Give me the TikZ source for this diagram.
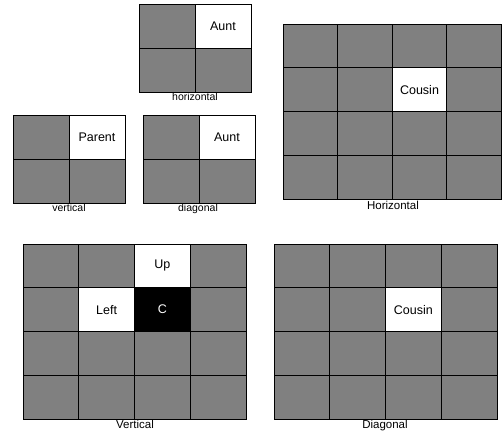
\documentclass[tikz,border=0pt]{standalone}
\usepackage{fontspec}
\setmainfont{Liberation Sans}
\usetikzlibrary{positioning}
\begin{document}
\begin{tikzpicture}[x=1pt, y=-1pt,
    cell/.style={rectangle, draw, line width=0.8pt, fill=black!50, inner sep=0pt,
                 minimum width=56pt, minimum height=44pt},
    bigcell/.style={cell, minimum width=55.75pt, minimum height=43.75pt},
    hole/.style={fill=white, font=\fontsize{12.5}{14}\selectfont},
    centre/.style={fill=black, text=white, font=\fontsize{12.5}{14}\selectfont},
    smalllabel/.style={inner sep=0pt, anchor=north, font=\fontsize{10.5}{12}\selectfont},
    biglabel/.style={inner sep=0pt, anchor=north, font=\fontsize{11.5}{14}\selectfont}
  ]
  \useasboundingbox (0,0) rectangle (502,437);

  % small grids
  \foreach \c in {0,1} {
    \foreach \r in {0,1} {
      \node[cell] (sh-\c\r) at ({167+56*\c},{26+44*\r}) {};
      \node[cell] (sv-\c\r) at ({41+56*\c},{137+44*\r}) {};
      \node[cell] (sd-\c\r) at ({171+56*\c},{137+44*\r}) {};
    }
  }
  \node[cell, hole] (aunt-h) at (sh-10) {Aunt};
  \node[cell, hole] (parent) at (sv-10) {Parent};
  \node[cell, hole] (aunt-d) at (sd-10) {Aunt};

  \node[smalllabel] (lab-sh) at (195,93) {horizontal};
  \node[smalllabel] (lab-sv) at (69,204) {vertical};
  \node[smalllabel] (lab-sd) at (198,204) {diagonal};

  % big grids
  \foreach \c in {0,...,3} {
    \foreach \r in {0,...,3} {
      \node[bigcell, minimum width=54.6pt] (bh-\c\r) at ({283+27.3+54.6*\c},{24+21.875+43.75*\r}) {};
      \node[bigcell] (bv-\c\r) at ({23+27.875+55.75*\c},{244+21.875+43.75*\r}) {};
      \node[bigcell] (bd-\c\r) at ({274+27.875+55.75*\c},{244+21.875+43.75*\r}) {};
    }
  }
  \node[bigcell, minimum width=54.6pt, hole] (cousin-h) at (bh-21) {Cousin};
  \node[bigcell, hole] (up) at (bv-20) {Up};
  \node[bigcell, hole] (left) at (bv-11) {Left};
  \node[bigcell, centre] (c) at (bv-21) {C};
  \node[bigcell, hole] (cousin-d) at (bd-21) {Cousin};

  \node[biglabel] (lab-bh) at (393,201) {Horizontal};
  \node[biglabel] (lab-bv) at (135,420) {Vertical};
  \node[biglabel] (lab-bd) at (385,420) {Diagonal};
\end{tikzpicture}
\end{document}
